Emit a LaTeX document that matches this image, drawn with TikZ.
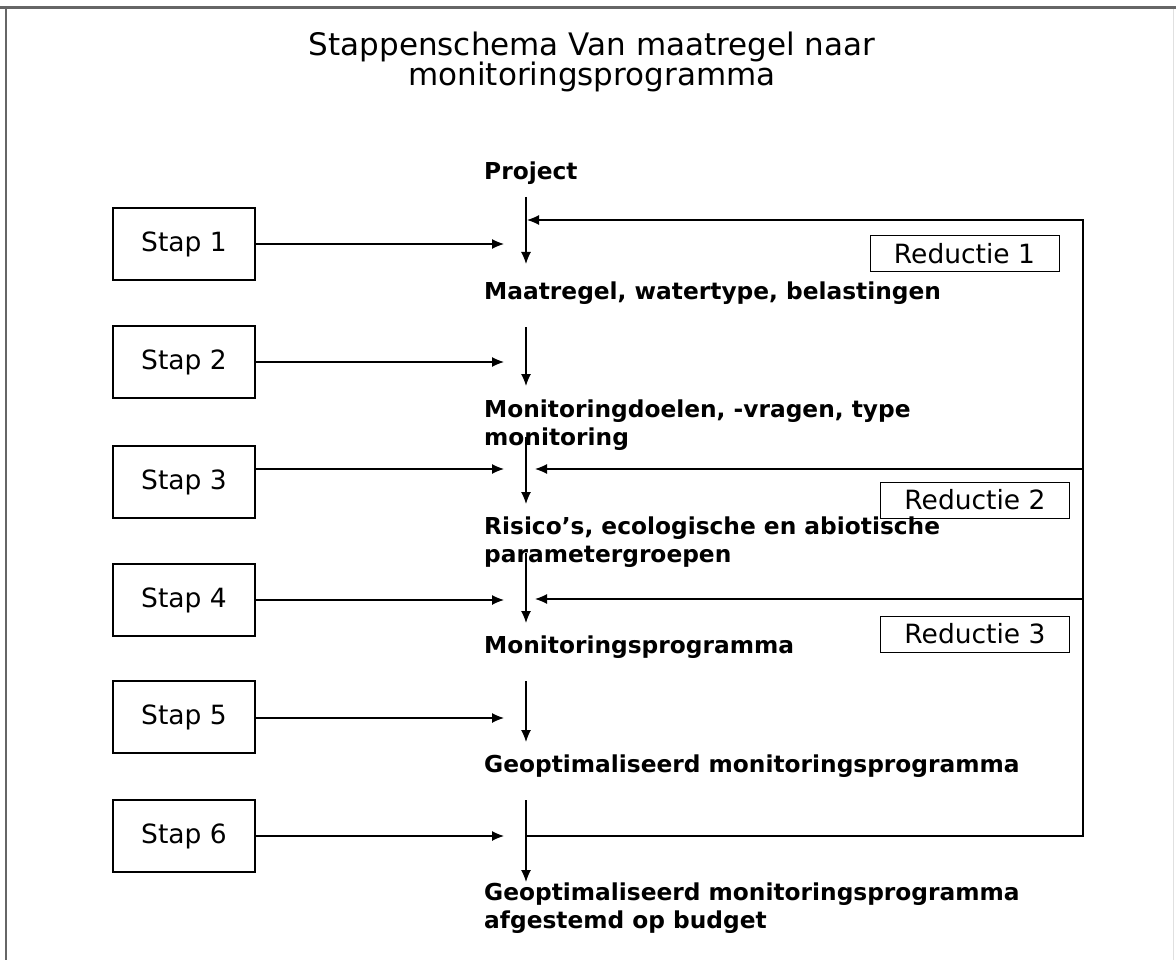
\documentclass[tikz,border=0pt]{standalone}
\usepackage{fontspec}
\setmainfont{DejaVu Sans}
\usetikzlibrary{arrows.meta}
\begin{document}
\begin{tikzpicture}[x=1pt,y=-1pt,
  conn/.style={line width=1.2pt,-{Latex[length=12pt,width=10pt]}},
  stapbox/.style={draw,line width=1.2pt,minimum width=142pt,minimum height=72pt,inner sep=0pt,
    font=\fontsize{26.5}{30}\selectfont},
  redbox/.style={draw,line width=1pt,minimum width=189pt,minimum height=36pt,inner sep=0pt,
    font=\fontsize{26.5}{30}\selectfont},
  stage/.style={anchor=base west,align=left,inner sep=0pt,
    font=\bfseries\fontsize{23.3}{28}\selectfont},
]
\useasboundingbox (0,0) rectangle (1176,960);
\fill[white] (0,0) rectangle (1176,960);
% page frame
\draw[line width=2.5pt,black!60] (0,7.5) -- (1176,7.5);
\draw[line width=2.5pt,black!60] (6,7.5) -- (6,960);
\draw[line width=1pt,black!12] (1173,9) -- (1173,960);

% title (base anchor sits on the last line)
\node[anchor=base,align=center,inner sep=0pt,font=\fontsize{31}{31}\selectfont] (title) at (592,86)
  {Stappenschema Van maatregel naar\\[-1pt]monitoringsprogramma};

% stage texts (base anchor on the last line)
\node[stage] (p0) at (484,180) {Project};
\node[stage] (p1) at (484,300) {Maatregel, watertype, belastingen};
\node[stage] (p2) at (484,445) {Monitoringdoelen, -vragen, type\\monitoring};
\node[stage] (p3) at (484,562) {Risico’s, ecologische en abiotische\\parametergroepen};
\node[stage] (p4) at (484,653) {Monitoringsprogramma};
\node[stage] (p5) at (484,772) {Geoptimaliseerd monitoringsprogramma};
\node[stage] (p6) at (484,928) {Geoptimaliseerd monitoringsprogramma\\afgestemd op budget};

% step boxes
\node[stapbox] (s1) at (184,244) {Stap 1};
\node[stapbox] (s2) at (184,362) {Stap 2};
\node[stapbox] (s3) at (184,482) {Stap 3};
\node[stapbox] (s4) at (184,600) {Stap 4};
\node[stapbox] (s5) at (184,717) {Stap 5};
\node[stapbox] (s6) at (184,836) {Stap 6};

% reduction boxes
\node[redbox] (r1) at (964.5,254) {Reductie 1};
\node[redbox] (r2) at (975,500) {Reductie 2};
\node[redbox] (r3) at (975,634) {Reductie 3};

% arrow ends on the main flow
\coordinate (i1) at (504,244);
\coordinate (i2) at (504,362);
\coordinate (i3) at (504,469);
\coordinate (i4) at (504,600);
\coordinate (i5) at (504,718);
\coordinate (i6) at (504,836);

\coordinate (v1a) at (526,197); \coordinate (v1b) at (526,264);
\coordinate (v2a) at (526,327); \coordinate (v2b) at (526,386);
\coordinate (v3a) at (526,437); \coordinate (v3b) at (526,504);
\coordinate (v4a) at (526,553); \coordinate (v4b) at (526,623);
\coordinate (v5a) at (526,681); \coordinate (v5b) at (526,742);
\coordinate (v6a) at (526,800); \coordinate (v6b) at (526,882);

% feedback loop
\coordinate (fb0) at (527,836);
\coordinate (fbb) at (1083,836);
\coordinate (fbt) at (1083,220);
\coordinate (fb1) at (527,220);
\coordinate (fb2s) at (1083,469); \coordinate (fb2) at (535,469);
\coordinate (fb3s) at (1083,599); \coordinate (fb3) at (535,599);

% steps feeding the flow
\foreach \k in {1,...,6}{\draw[conn] (s\k.east |- i\k) -- (i\k);}
% main flow
\foreach \k in {1,...,6}{\draw[conn] (v\k a) -- (v\k b);}
% reductions fed back
\draw[conn] (fb0) -- (fbb) -- (fbt) -- (fb1);
\draw[conn] (fb2s) -- (fb2);
\draw[conn] (fb3s) -- (fb3);
\end{tikzpicture}
\end{document}
